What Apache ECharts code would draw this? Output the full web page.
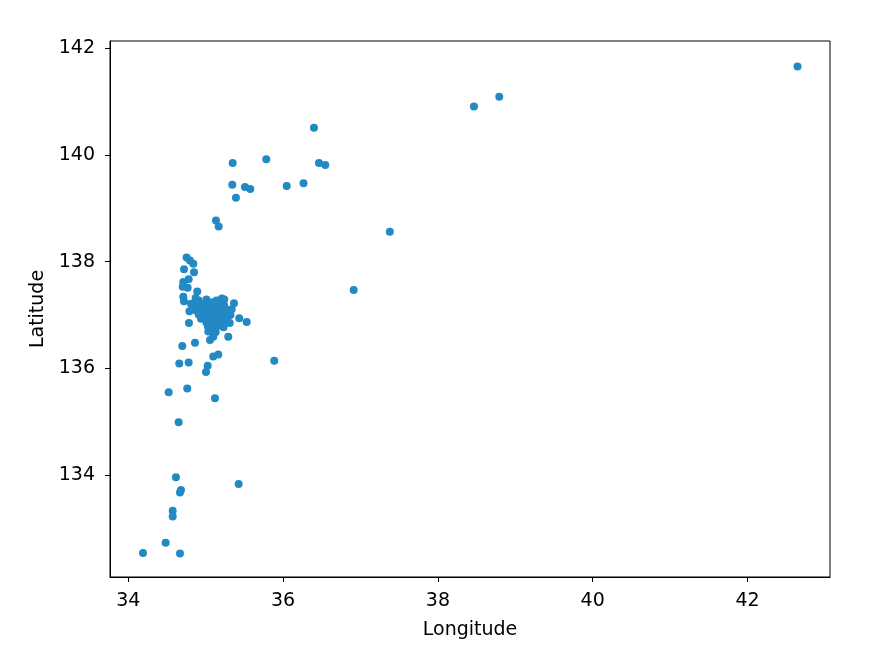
<!DOCTYPE html>
<html>
<head>
<meta charset="utf-8">
<script src="https://cdn.jsdelivr.net/npm/echarts@6/dist/echarts.min.js"></script>
<style>html,body{margin:0;padding:0;background:#fff}#c{width:887px;height:647px}</style>
</head>
<body>
<div id="c"></div>
<script>
// Longitude (x) and Latitude (y) values
const longitude = [
  42.646, 38.793, 38.466, 36.399, 35.783, 35.349, 36.464, 36.545, 35.344, 35.508,
  35.576, 36.047, 36.264, 35.391, 35.133, 35.168, 37.379, 36.912, 35.886, 35.426,
  35.004, 34.522, 34.762, 35.120, 34.651, 34.616, 34.681, 34.668, 34.574, 34.574,
  34.483, 34.190, 34.668,
  34.754, 34.797, 34.840, 34.720, 34.849, 34.780, 34.711, 34.703, 34.711, 34.720,
  34.891, 34.767, 35.240, 35.366, 35.336, 35.434, 35.530, 34.784, 35.292, 35.056,
  35.098, 34.698, 34.862, 35.098, 35.163, 34.659, 34.780, 35.026, 35.034,
  34.87, 34.91, 35.01, 35.09, 35.14, 35.21,
  34.81, 34.89, 34.94, 35.03, 35.11, 35.17, 35.24,
  34.84, 34.92, 34.98, 35.04, 35.13, 35.21, 35.27,
  34.79, 34.87, 34.96, 35.01, 35.09, 35.16, 35.23, 35.29,
  34.91, 34.96, 35.04, 35.11, 35.18, 35.24, 35.32,
  34.94, 35.03, 35.07, 35.15, 35.21, 35.27,
  35.01, 35.05, 35.13, 35.19, 35.24, 35.31,
  35.03, 35.11, 35.16, 35.23,
  35.07, 35.13
];
const latitude = [
  141.66, 141.09, 140.91, 140.51, 139.92, 139.85, 139.85, 139.81, 139.44, 139.40,
  139.36, 139.42, 139.47, 139.20, 138.77, 138.66, 138.56, 137.47, 136.14, 133.83,
  135.93, 135.55, 135.62, 135.44, 134.99, 133.96, 133.72, 133.67, 133.33, 133.22,
  132.73, 132.54, 132.53,
  138.08, 138.02, 137.96, 137.86, 137.80, 137.67, 137.62, 137.53, 137.34, 137.26,
  137.44, 137.51, 137.29, 137.22, 137.11, 136.94, 136.87, 136.85, 136.59, 136.53,
  136.59, 136.42, 136.48, 136.22, 136.26, 136.09, 136.11, 136.05, 136.69,
  137.32, 137.27, 137.29, 137.24, 137.27, 137.31,
  137.21, 137.24, 137.19, 137.22, 137.20, 137.23, 137.18,
  137.14, 137.17, 137.13, 137.16, 137.12, 137.15, 137.10,
  137.07, 137.09, 137.05, 137.08, 137.06, 137.09, 137.04, 137.07,
  137.01, 136.98, 137.02, 136.99, 137.03, 136.97, 137.00,
  136.93, 136.95, 136.91, 136.94, 136.90, 136.92,
  136.86, 136.83, 136.87, 136.84, 136.88, 136.85,
  136.78, 136.76, 136.80, 136.77,
  136.71, 136.68
];
const xTicks = [34, 36, 38, 40, 42];
const yTicks = [134, 136, 138, 140, 142];

const points = longitude.map((x, i) => [x, latitude[i]]);
const chart = echarts.init(document.getElementById('c'), null, {renderer: 'canvas'});
const font = 'DejaVu Sans';
const axisCommon = {
  type: 'value',
  axisLine: {show: true, onZero: false, lineStyle: {color: '#000', width: 1}},
  splitLine: {show: false},
  nameLocation: 'middle',
  nameTextStyle: {fontFamily: font, fontSize: 19, color: '#000'}
};
chart.setOption({
  animation: false,
  grid: {left: 110, right: 57, top: 41, bottom: 70, show: true, borderColor: '#000', borderWidth: 1, containLabel: false},
  xAxis: Object.assign({}, axisCommon, {
    min: 33.764, max: 43.066,
    name: 'Longitude', nameGap: 44,
    axisTick: {show: true, length: 5, lineStyle: {color: '#000'}, customValues: xTicks},
    axisLabel: {customValues: xTicks, fontFamily: font, fontSize: 19, color: '#000', margin: 15}
  }),
  yAxis: Object.assign({}, axisCommon, {
    min: 132.088, max: 142.137,
    name: 'Latitude', nameGap: 56,
    axisTick: {show: true, length: 5, lineStyle: {color: '#000'}, customValues: yTicks},
    axisLabel: {customValues: yTicks, fontFamily: font, fontSize: 19, color: '#000', margin: 15}
  }),
  series: [{
    type: 'scatter',
    data: points,
    symbolSize: 8,
    itemStyle: {color: '#2389c5', opacity: 1}
  }]
});
</script>
</body>
</html>
